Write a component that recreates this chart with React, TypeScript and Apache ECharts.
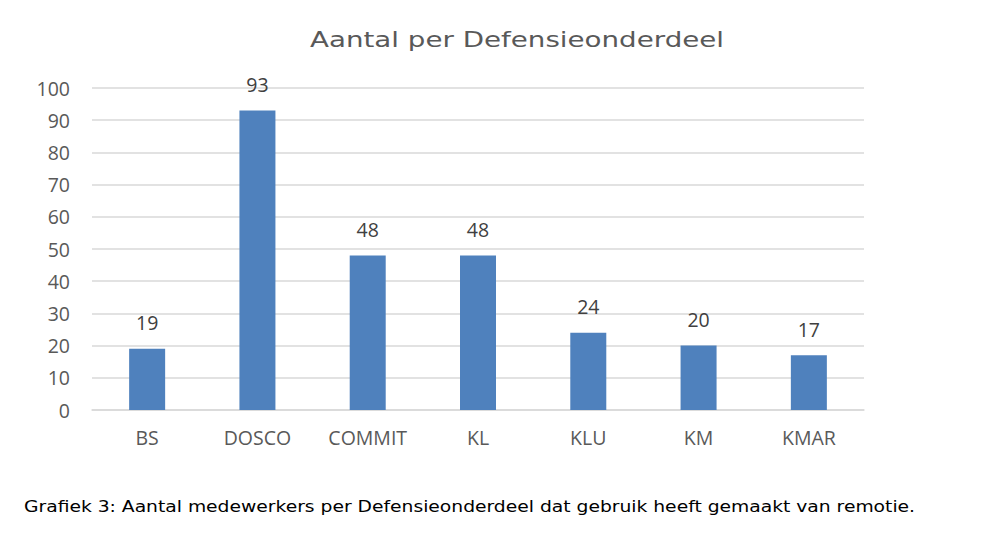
import React, { useEffect, useRef } from "react";
import * as echarts from "echarts";

const categories = ["BS", "DOSCO", "COMMIT", "KL", "KLU", "KM", "KMAR"];
const values = [19, 93, 48, 48, 24, 20, 17];
const titleText = "Aantal per Defensieonderdeel";
const captionText = "Grafiek 3: Aantal medewerkers per Defensieonderdeel dat gebruik heeft gemaakt van remotie.";

const verdana = "Verdana, 'DejaVu Sans', sans-serif";
const labelFont = "'Open Sans', sans-serif";

export default function App() {
  const ref = useRef<HTMLDivElement>(null);
  useEffect(() => {
    if (!ref.current) return;
    const chart = echarts.init(ref.current, undefined, { renderer: "svg" });
    chart.setOption({
      animation: false,
      backgroundColor: "#ffffff",
      grid: { left: 92, right: 125, top: 88, bottom: 134 },
      xAxis: {
        type: "category",
        data: categories,
        axisLine: { lineStyle: { color: "#D9D9D9", width: 1.5 } },
        axisTick: { show: false },
        axisLabel: { fontFamily: labelFont, fontSize: 19.5, color: "#595959", margin: 17 },
      },
      yAxis: {
        type: "value",
        min: 0,
        max: 100,
        interval: 10,
        axisLine: { show: false },
        axisTick: { show: false },
        splitLine: { lineStyle: { color: "#D9D9D9", width: 1.5 } },
        axisLabel: { fontFamily: labelFont, fontSize: 19.5, color: "#595959", margin: 22 },
      },
      series: [
        {
          type: "bar",
          data: values,
          barWidth: 36,
          itemStyle: { color: "#4F81BD" },
          label: {
            show: true,
            position: "top",
            distance: 16,
            fontFamily: labelFont,
            fontSize: 19.5,
            color: "#404040",
          },
        },
      ],
      graphic: [
        {
          type: "text",
          x: 517,
          y: 40,
          scaleX: 1.26,
          style: {
            text: titleText,
            fontFamily: verdana,
            fontSize: 22,
            fill: "#595959",
            textAlign: "center",
            textVerticalAlign: "middle",
          },
        },
        {
          type: "text",
          x: 24,
          y: 506,
          scaleX: 1.135,
          style: {
            text: captionText,
            fontFamily: verdana,
            fontSize: 16.5,
            fill: "#000000",
            textAlign: "left",
            textVerticalAlign: "middle",
          },
        },
      ],
    });
    return () => chart.dispose();
  }, []);
  return <div ref={ref} style={{ position: "fixed", left: 0, top: 0, width: 989, height: 544 }} />;
}
